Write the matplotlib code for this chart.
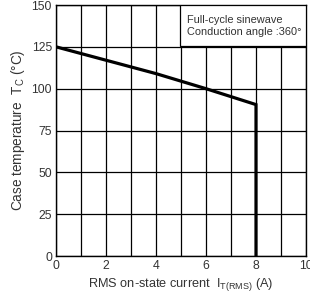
import matplotlib
matplotlib.use("Agg")
import matplotlib.pyplot as plt
from matplotlib.patches import Rectangle

plt.rcParams["font.family"] = ["Liberation Sans", "DejaVu Sans"]

# derating curve
current = [0, 2, 4, 6, 8, 8]
case_temp = [125, 117, 109, 100, 90.5, 0]

x_ticks = [0, 2, 4, 6, 8, 10]
y_ticks = [0, 25, 50, 75, 100, 125, 150]
note_lines = ["Full-cycle sinewave", "Conduction angle :360°"]

text_color = "#333333"

fig = plt.figure(figsize=(3.10, 2.95), dpi=100)
ax = fig.add_axes([0.181, 0.132, 0.806, 0.851])

ax.set_xlim(0, 10)
ax.set_ylim(0, 150)
ax.set_xticks(x_ticks)
ax.set_xticks(range(0, 11), minor=True)
ax.set_yticks(y_ticks)
ax.grid(True, which="both", axis="x", color="black", lw=0.9)
ax.grid(True, which="major", axis="y", color="black", lw=0.9)
ax.tick_params(which="both", length=0, labelsize=8.8, labelcolor=text_color, pad=3)
for s in ax.spines.values():
    s.set_linewidth(1.0)

ax.plot(current, case_temp, color="black", lw=2.3, solid_joinstyle="miter", zorder=3)

# note box in the upper right corner
ax.add_patch(Rectangle((4.95, 125.3), 5.05, 24.7, facecolor="white",
                       edgecolor="black", lw=0.9, zorder=4))
ax.text(5.22, 144.0, "\n".join(note_lines), fontsize=7.9, color=text_color,
        va="top", ha="left", linespacing=1.2, zorder=5)

ax.set_xlabel("RMS on-state current  I$_{\\mathregular{T(RMS)}}$ (A)",
              fontsize=9.2, color=text_color, labelpad=3)
ax.set_ylabel("Case temperature  T$_{\\mathregular{C}}$ (°C)",
              fontsize=9.8, color=text_color, labelpad=3)

fig.savefig("out.png", dpi=100)
